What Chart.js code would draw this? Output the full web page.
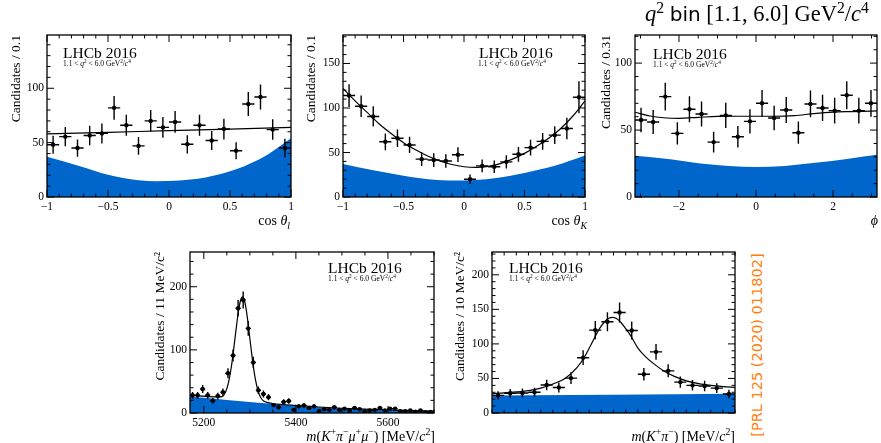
<!DOCTYPE html>
<html>
<head>
<meta charset="utf-8">
<script src="https://cdn.jsdelivr.net/npm/chart.js@4.4.0/dist/chart.umd.min.js"></script>
<style>
  body { margin: 0; background: #fff; }
  #page { position: relative; width: 881px; height: 443px; overflow: hidden;
          font-family: "Liberation Serif", "DejaVu Serif", serif; color: #000; }
  canvas { position: absolute; }
  .lbl { position: absolute; white-space: nowrap; line-height: 1; }
  .lhcb { font-size: 15.5px; }
  .cut { font-size: 7.5px; }
  .xt { font-size: 14px; }
  sup, sub { font-size: 70%; line-height: 0; }
</style>
</head>
<body>
<div id="page">
  <canvas id="cThetaL" width="300" height="205" style="left:0px;top:25px"></canvas>
  <canvas id="cThetaK" width="300" height="205" style="left:295px;top:25px"></canvas>
  <canvas id="cPhi" width="293" height="205" style="left:588px;top:25px"></canvas>
  <canvas id="cMassB" width="300" height="203" style="left:140px;top:240px"></canvas>
  <canvas id="cMassKpi" width="300" height="203" style="left:442px;top:240px"></canvas>

  <div class="lbl lhcb" style="left:63px;top:45px">LHCb 2016</div>
  <div class="lbl cut" style="left:63px;top:60px">1.1 &lt; <i>q</i><sup>2</sup> &lt; 6.0 GeV<sup>2</sup>/<i>c</i><sup>4</sup></div>
  <div class="lbl lhcb" style="left:479px;top:45px">LHCb 2016</div>
  <div class="lbl cut" style="left:478px;top:60px">1.1 &lt; <i>q</i><sup>2</sup> &lt; 6.0 GeV<sup>2</sup>/<i>c</i><sup>4</sup></div>
  <div class="lbl lhcb" style="left:653px;top:46px">LHCb 2016</div>
  <div class="lbl cut" style="left:653px;top:61px">1.1 &lt; <i>q</i><sup>2</sup> &lt; 6.0 GeV<sup>2</sup>/<i>c</i><sup>4</sup></div>
  <div class="lbl lhcb" style="left:328px;top:260px">LHCb 2016</div>
  <div class="lbl cut" style="left:328px;top:275px">1.1 &lt; <i>q</i><sup>2</sup> &lt; 6.0 GeV<sup>2</sup>/<i>c</i><sup>4</sup></div>
  <div class="lbl lhcb" style="left:509px;top:260px">LHCb 2016</div>
  <div class="lbl cut" style="left:509px;top:275px">1.1 &lt; <i>q</i><sup>2</sup> &lt; 6.0 GeV<sup>2</sup>/<i>c</i><sup>4</sup></div>

  <div class="lbl xt" style="right:591px;top:214px">cos <i>θ</i><sub><i>l</i></sub></div>
  <div class="lbl xt" style="right:294px;top:214px">cos <i>θ</i><sub><i>K</i></sub></div>
  <div class="lbl xt" style="right:3px;top:214px"><i>ϕ</i></div>
  <div class="lbl xt" style="right:446px;top:430px"><i>m</i>(<i>K</i><sup>+</sup><i>π</i><sup>−</sup><i>μ</i><sup>+</sup><i>μ</i><sup>−</sup>) [MeV/<i>c</i><sup>2</sup>]</div>
  <div class="lbl xt" style="right:146px;top:430px"><i>m</i>(<i>K</i><sup>+</sup><i>π</i><sup>−</sup>) [MeV/<i>c</i><sup>2</sup>]</div>

  <div class="lbl" style="left:645px;top:3px;font-size:22.5px"><i>q</i><sup>2</sup> <span style="font-family:'DejaVu Sans';font-size:20px">bin</span> [1.1, 6.0] GeV<sup>2</sup>/<i>c</i><sup>4</sup></div>
  <div class="lbl" style="left:757px;top:345px;font-family:'DejaVu Sans';font-size:14.5px;color:#ff7f0e;transform:translate(-50%,-50%) rotate(-90deg)">[PRL 125 (2020) 011802]</div>
</div>

<script>
// cos(theta_l) projection
const cosBinCentres = [-0.95, -0.85, -0.75, -0.65, -0.55, -0.45, -0.35, -0.25, -0.15, -0.05, 0.05, 0.15, 0.25, 0.35, 0.45, 0.55, 0.65, 0.75, 0.85, 0.95];
const ctlCounts = [48, 55.5, 45, 56.5, 58.5, 82, 66, 47, 70, 64, 69, 48.5, 66, 52, 62.5, 42.5, 85.5, 92, 62, 45];
const ctlErrors = [8.3, 8.9, 8, 9, 9.2, 10.9, 9.7, 8.2, 10, 9.6, 10, 8.4, 9.7, 8.7, 9.5, 7.8, 11.1, 11.5, 9.4, 8.5];
const ctlFitX = [-1, -0.5, 0, 0.5, 1];
const ctlFit = [58, 59.5, 61, 62.5, 64];
const ctlBkgX = [-1, -0.75, -0.5, -0.25, -0.1, 0.05, 0.3, 0.55, 0.8, 1];
const ctlBkg = [37, 29, 20.5, 15.5, 14.6, 15, 18, 25.5, 38.5, 54];

// cos(theta_K) projection
const ctkCounts = [114, 102, 90.5, 62, 66, 58.5, 42.5, 41.5, 40.5, 47.5, 20, 35, 34, 39.5, 48, 55.5, 62.5, 69.5, 77, 112];
const ctkErrors = [12.8, 12.1, 11.4, 9.4, 9.7, 9.2, 7.8, 7.7, 7.6, 8.3, 5.4, 7.1, 7, 7.5, 8.3, 8.9, 9.5, 10, 12, 18];
const ctkFitX = [-1, -0.9, -0.8, -0.7, -0.6, -0.5, -0.4, -0.3, -0.2, -0.1, 0, 0.1, 0.2, 0.3, 0.4, 0.5, 0.6, 0.7, 0.8, 0.9, 1];
const ctkFit = [122, 108, 95, 82, 71, 61, 53, 46, 40.5, 36.5, 34, 33.2, 34.5, 37.5, 42.5, 49, 57, 66, 77, 91, 108];
const ctkBkgX = [-1, -0.75, -0.5, -0.25, 0, 0.25, 0.5, 0.75, 1];
const ctkBkg = [37, 30, 24, 19.5, 18.5, 21, 27, 35, 46.5];

// phi projection
const phiBinCentres = [-2.985, -2.670, -2.356, -2.042, -1.728, -1.414, -1.100, -0.785, -0.471, -0.157, 0.157, 0.471, 0.785, 1.100, 1.414, 1.728, 2.042, 2.356, 2.670, 2.985];
const phiCounts = [57.5, 56, 75, 47.5, 65.5, 62, 41, 61, 45, 56.5, 70, 59, 65, 48, 69.5, 66.5, 64.5, 76, 64.5, 70];
const phiErrors = [9.1, 9, 10.4, 8.3, 9.7, 9.4, 7.7, 9.4, 8, 9, 10, 9.2, 9.7, 8.3, 10, 9.8, 9.6, 10.5, 9.6, 10];
const phiFitX = [-3.1416, -2.75, -2.4, -2, -1.5, -1, -0.5, 0, 0.5, 1, 1.5, 2, 2.5, 3.1416];
const phiFit = [63.3, 60.5, 59.2, 58.8, 59.5, 60.2, 60.3, 60.3, 60.3, 60.8, 62.3, 63.4, 63.8, 64.3];
const phiBkgX = [-3.1416, -2.4, -1.5, -0.7, 0, 0.75, 1.6, 2.45, 3.1416];
const phiBkg = [30.8, 28.7, 25.2, 23.2, 22.5, 23.2, 25.7, 28.8, 31.5];

// m(K+ pi- mu+ mu-)
const mbBinCentres = [5175.5, 5186.5, 5197.5, 5208.5, 5219.5, 5230.5, 5241.5, 5252.5, 5263.5, 5274.5, 5285.5, 5296.5,
  5307.5, 5318.5, 5329.5, 5340.5, 5351.5, 5362.5, 5373.5, 5384.5, 5395.5, 5406.5, 5417.5, 5428.5,
  5439.5, 5450.5, 5461.5, 5472.5, 5483.5, 5494.5, 5505.5, 5516.5, 5527.5, 5538.5, 5549.5, 5560.5,
  5571.5, 5582.5, 5593.5, 5604.5, 5615.5, 5626.5, 5637.5, 5648.5, 5659.5, 5670.5, 5681.5, 5692.5];
const mbCounts = [28, 28, 38, 28, 19.5, 27, 33, 63, 91, 166, 179, 134,
  80, 36, 30, 25, 12.5, 9, 17.5, 19, 5, 10.5, 12, 8,
  10.5, 3, 6, 5, 9, 5, 7, 4, 8, 6, 2, 4,
  5, 8, 4, 7, 7, 3, 3, 4, 2, 4, 1, 1.5];
const mbErrors = [5.3, 5.3, 6.2, 5.3, 4.4, 5.2, 5.7, 7.9, 9.5, 12.9, 13.4, 11.6,
  8.9, 6, 5.5, 5, 3.5, 3, 4.2, 4.4, 2.2, 3.2, 3.5, 2.8,
  3.2, 1.7, 2.4, 2.2, 3, 2.2, 2.6, 2, 2.8, 2.4, 1.4, 2,
  2.2, 2.8, 2, 2.6, 2.6, 1.7, 1.7, 2, 1.4, 2, 1, 1.2];
const mbFitX = [5170, 5190, 5210, 5230, 5240, 5245, 5250, 5255, 5260, 5265, 5270, 5275, 5280, 5284, 5288, 5292,
  5296, 5300, 5305, 5310, 5315, 5320, 5325, 5330, 5340, 5350, 5370, 5400, 5450, 5500, 5550, 5600, 5650, 5700];
const mbFit = [28, 27, 26, 25.5, 26, 30, 38.5, 53, 74, 102, 132, 160, 179, 184, 179, 164,
  143, 118, 88, 62, 43, 30, 23, 19, 16.5, 15, 13.5, 12, 9.5, 7.5, 6, 4.8, 3.9, 3.2];
const mbBkgX = [5170, 5200, 5250, 5300, 5350, 5400, 5450, 5500, 5550, 5600, 5650, 5700];
const mbBkg = [26, 24, 20.5, 17.5, 14.5, 11.5, 9, 7, 5.5, 4.3, 3.4, 2.7];

// m(K+ pi-)
const mkpBinCentres = [800.9, 810.9, 820.9, 830.9, 840.9, 850.9, 860.9, 870.9, 880.9, 890.9,
  900.9, 910.9, 920.9, 930.9, 940.9, 950.9, 960.9, 970.9, 980.9, 990.9];
const mkpCounts = [25.5, 28.5, 29, 30, 40.5, 37, 50.5, 80, 120, 132, 145.5, 119.5, 56, 88.5, 61, 44.7, 40, 39, 36, 27.5];
const mkpErrors = [6.1, 6.4, 6.5, 6.6, 7.6, 7.3, 8.5, 10.7, 13.1, 13.8, 14.5, 13.1, 9, 11.3, 9.4, 8, 7.6, 7.5, 7.2, 6.3];
const mkpFitX = [796, 806, 816, 826, 836, 846, 856, 866, 872, 878, 884, 888, 892, 895, 898, 902, 906, 910,
  916, 922, 930, 938, 946, 956, 966, 976, 986, 996];
const mkpFit = [28, 29, 30.5, 32.5, 36, 42, 50, 66, 81, 101, 121, 131, 137, 138.5, 137, 131, 122, 112,
  94, 82, 70, 60, 53, 46.5, 42.5, 40, 38.3, 37];
const mkpBkgX = [796, 996];
const mkpBkg = [25.2, 27.8];

const BLUE = '#0066cc';
Chart.defaults.font.family = "'Liberation Serif', 'DejaVu Serif', serif";
Chart.defaults.color = '#000';

function isMajor(v, step) {
  return Math.abs(v / step - Math.round(v / step)) < 1e-6;
}

function fmt(v) {
  return String(v).replace('-', '\u2212');
}

// ROOT style frame: box plus inward ticks on all four sides
const rootFrame = {
  id: 'rootFrame',
  afterDatasetsDraw(chart, args, opts) {
    const { ctx, chartArea: a } = chart;
    const xs = chart.scales.x, ys = chart.scales.y;
    ctx.save();
    ctx.strokeStyle = '#000';
    ctx.lineWidth = 1;
    ctx.beginPath();
    xs.ticks.forEach(t => {
      const px = xs.getPixelForValue(t.value);
      const len = isMajor(t.value, opts.xMajor) ? 7 : 3.5;
      ctx.moveTo(px, a.bottom); ctx.lineTo(px, a.bottom - len);
      ctx.moveTo(px, a.top); ctx.lineTo(px, a.top + len);
    });
    ys.ticks.forEach(t => {
      const py = ys.getPixelForValue(t.value);
      const len = isMajor(t.value, opts.yMajor) ? 7 : 3.5;
      ctx.moveTo(a.left, py); ctx.lineTo(a.left + len, py);
      ctx.moveTo(a.right, py); ctx.lineTo(a.right - len, py);
    });
    ctx.stroke();
    ctx.lineWidth = 1.3;
    ctx.strokeRect(a.left, a.top, a.right - a.left, a.bottom - a.top);
    ctx.restore();
  }
};

// x and y error bars for the data points
const errorBars = {
  id: 'errorBars',
  afterDatasetsDraw(chart) {
    const { ctx } = chart;
    const xs = chart.scales.x, ys = chart.scales.y;
    ctx.save();
    ctx.strokeStyle = '#000';
    ctx.lineWidth = 1.4;
    ctx.beginPath();
    chart.data.datasets.forEach(ds => {
      if (!ds.withErrors) return;
      ds.data.forEach(p => {
        const cx = xs.getPixelForValue(p.x), cy = ys.getPixelForValue(p.y);
        ctx.moveTo(xs.getPixelForValue(p.x - p.ex), cy);
        ctx.lineTo(xs.getPixelForValue(p.x + p.ex), cy);
        ctx.moveTo(cx, ys.getPixelForValue(p.y - p.ey));
        ctx.lineTo(cx, ys.getPixelForValue(p.y + p.ey));
      });
    });
    ctx.stroke();
    ctx.restore();
  }
};

function xy(xv, yv) {
  return xv.map((x, i) => ({ x: x, y: yv[i] }));
}

function makePanel(id, p) {
  const points = p.centres.map((x, i) => ({ x: x, y: p.counts[i], ex: p.halfBin, ey: p.errors[i] }));
  return new Chart(document.getElementById(id), {
    type: 'scatter',
    data: {
      datasets: [
        { type: 'line', data: xy(p.bkgX, p.bkg), fill: 'origin', backgroundColor: BLUE, borderWidth: 0,
          pointRadius: 0, cubicInterpolationMode: 'monotone', order: 3 },
        { type: 'line', data: xy(p.fitX, p.fit), fill: false, borderColor: '#000', borderWidth: 1.2,
          pointRadius: 0, cubicInterpolationMode: 'monotone', order: 2 },
        { data: points, backgroundColor: '#000', borderWidth: 0, pointRadius: 2.2, withErrors: true, order: 1 }
      ]
    },
    options: {
      responsive: false,
      animation: false,
      events: [],
      layout: { padding: { top: p.padTop, right: p.padRight, left: 0, bottom: 0 } },
      plugins: {
        legend: { display: false },
        tooltip: { enabled: false },
        rootFrame: { xMajor: p.xMajor, yMajor: p.yMajor }
      },
      scales: {
        x: {
          type: 'linear', min: p.xMin, max: p.xMax,
          grid: { display: false, drawTicks: false }, border: { display: false },
          ticks: { stepSize: p.xStep, autoSkip: false, includeBounds: false, maxRotation: 0, padding: 3,
                   font: { size: 11.5 }, color: '#000',
                   callback: v => isMajor(v, p.xLabelStep) ? fmt(v) : '' },
          afterFit: s => { s.height = p.xAxisH; }
        },
        y: {
          min: 0, max: p.yMax,
          grid: { display: false, drawTicks: false }, border: { display: false },
          ticks: { stepSize: p.yStep, autoSkip: false, includeBounds: false, padding: 3,
                   font: { size: 11.5 }, color: '#000',
                   callback: v => isMajor(v, p.yMajor) ? fmt(v) : '' },
          title: { display: true, text: p.yTitle, align: 'end', color: '#000',
                   font: { size: 13.5 }, padding: p.titlePad },
          afterFit: s => { s.width = p.yAxisW; }
        }
      }
    },
    plugins: [errorBars, rootFrame]
  });
}

makePanel('cThetaL', {
  centres: cosBinCentres, counts: ctlCounts, errors: ctlErrors, halfBin: 0.05,
  fitX: ctlFitX, fit: ctlFit, bkgX: ctlBkgX, bkg: ctlBkg,
  xMin: -1, xMax: 1, xStep: 0.1, xMajor: 0.5, xLabelStep: 0.5,
  yMax: 149, yStep: 10, yMajor: 50, yTitle: 'Candidates / 0.1',
  padTop: 10, padRight: 9, yAxisW: 47, xAxisH: 33, titlePad: 8
});

makePanel('cThetaK', {
  centres: cosBinCentres, counts: ctkCounts, errors: ctkErrors, halfBin: 0.05,
  fitX: ctkFitX, fit: ctkFit, bkgX: ctkBkgX, bkg: ctkBkg,
  xMin: -1, xMax: 1, xStep: 0.1, xMajor: 0.5, xLabelStep: 0.5,
  yMax: 182, yStep: 10, yMajor: 50, yTitle: 'Candidates / 0.1',
  padTop: 10, padRight: 10, yAxisW: 48, xAxisH: 33, titlePad: 8
});

makePanel('cPhi', {
  centres: phiBinCentres, counts: phiCounts, errors: phiErrors, halfBin: 0.157,
  fitX: phiFitX, fit: phiFit, bkgX: phiBkgX, bkg: phiBkg,
  xMin: -3.1416, xMax: 3.1416, xStep: 0.5, xMajor: 2, xLabelStep: 2,
  yMax: 121, yStep: 10, yMajor: 50, yTitle: 'Candidates / 0.31',
  padTop: 10, padRight: 2, yAxisW: 47, xAxisH: 33, titlePad: 10
});

makePanel('cMassB', {
  centres: mbBinCentres, counts: mbCounts, errors: mbErrors, halfBin: 5.5,
  fitX: mbFitX, fit: mbFit, bkgX: mbBkgX, bkg: mbBkg,
  xMin: 5170, xMax: 5700, xStep: 50, xMajor: 200, xLabelStep: 200,
  yMax: 255, yStep: 20, yMajor: 100, yTitle: 'Candidates / 11 MeV/c\u00b2',
  padTop: 12, padRight: 6, yAxisW: 50, xAxisH: 30, titlePad: 12
});

makePanel('cMassKpi', {
  centres: mkpBinCentres, counts: mkpCounts, errors: mkpErrors, halfBin: 5,
  fitX: mkpFitX, fit: mkpFit, bkgX: mkpBkgX, bkg: mkpBkg,
  xMin: 795.9, xMax: 995.9, xStep: 10, xMajor: 50, xLabelStep: 50,
  yMax: 233, yStep: 10, yMajor: 50, yTitle: 'Candidates / 10 MeV/c\u00b2',
  padTop: 12, padRight: 7, yAxisW: 50, xAxisH: 30, titlePad: 10
});
</script>
</body>
</html>
